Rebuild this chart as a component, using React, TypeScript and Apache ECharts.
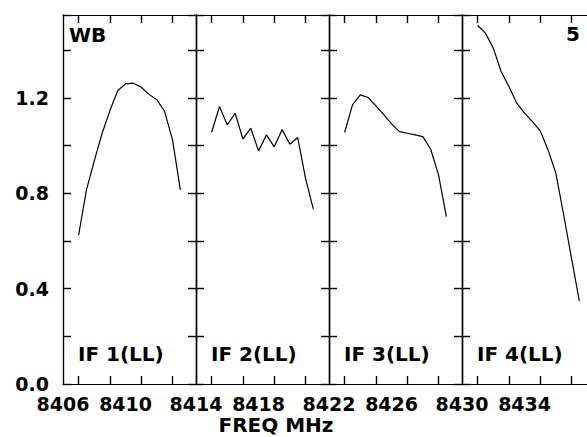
import React, { useEffect, useRef } from "react";
import * as echarts from "echarts";

// Panel (IF) start frequencies in MHz and labels
const panelStarts = [8406, 8414, 8422, 8430];
const panelLabels = ["IF 1(LL)", "IF 2(LL)", "IF 3(LL)", "IF 4(LL)"];
// Channel offsets (MHz) from each panel's start frequency
const channelOffsets = [1, 1.5, 2, 2.5, 3, 3.5, 4, 4.5, 5, 5.5, 6, 6.5, 7, 7.5];
// Amplitudes per IF
const if1 = [0.625, 0.814, 0.936, 1.052, 1.147, 1.231, 1.259, 1.262, 1.245, 1.215, 1.192, 1.143, 1.024, 0.814];
const if2 = [1.056, 1.164, 1.087, 1.136, 1.028, 1.073, 0.978, 1.045, 0.995, 1.067, 1.006, 1.034, 0.863, 0.734];
const if3 = [1.055, 1.171, 1.213, 1.202, 1.167, 1.13, 1.091, 1.059, 1.052, 1.045, 1.038, 0.985, 0.877, 0.702];
const if4 = [1.504, 1.472, 1.409, 1.311, 1.248, 1.178, 1.136, 1.101, 1.062, 0.982, 0.884, 0.709, 0.527, 0.348];
const seriesValues = [if1, if2, if3, if4];
// Axis settings
const yMax = 1.548;
const yTickStep = 0.2;
const yLabelValues = [0, 0.4, 0.8, 1.2];
const panelSpan = 8.5;
const xLabelStep = 4;
const xLabelOffsets = [0, 4];
const xTickFirst = 1;
const xTickLast = 7;
const xTickStep = 2;
const cornerLeft = "WB";
const cornerRight = "5";
const xTitle = "FREQ MHz";

const FONT = "DejaVu Sans";
const TICK = 8;

const ls = () => ({ color: "#000", width: 1.2 });
const tls = () => ({ color: "#000", width: 1.4 });

export default function App() {
  const ref = useRef<HTMLDivElement>(null);
  useEffect(() => {
    if (!ref.current) return;
    const chart = echarts.init(ref.current, undefined, { renderer: "svg" });
    const left0 = 63;
    const pw = 133;
    const top = 15;
    const h = 369;
    const pxPerMHz = pw / panelSpan;
    const grids: any[] = [];
    const xAxes: any[] = [];
    const yAxes: any[] = [];
    const series: any[] = [];
    const graphics: any[] = [];
    const emptyLabel = { show: true, formatter: () => "", fontSize: 1, margin: 0 };

    const hiddenAxis = (gridIndex: number) => ({
      type: "value",
      gridIndex,
      show: false,
      min: 0,
      max: 1,
      axisLine: { show: false, onZero: false },
      axisTick: { show: false },
      axisLabel: { show: false },
      splitLine: { show: false },
    });

    panelStarts.forEach((s, i) => {
      const gi = grids.length;
      const pl = left0 + pw * i;
      grids.push({ left: pl, top, width: pw, height: h, outerBoundsMode: "none" });
      const bx = xAxes.length;
      xAxes.push({
        type: "value",
        gridIndex: gi,
        position: "bottom",
        min: s,
        max: s + panelSpan,
        interval: xLabelStep,
        splitLine: { show: false },
        axisLine: { show: true, onZero: false, lineStyle: ls() },
        axisTick: { show: false },
        axisLabel: {
          show: true,
          showMaxLabel: false,
          formatter: (v: number) =>
            xLabelOffsets.some((o) => Math.abs(v - s - o) < 1e-6) ? String(Math.round(v)) : "",
          color: "#000",
          fontFamily: FONT,
          fontWeight: "bold",
          fontSize: 19,
          lineHeight: 15,
          margin: 12,
        },
      });
      xAxes.push({
        type: "value",
        gridIndex: gi,
        position: "top",
        min: s,
        max: s + panelSpan,
        splitLine: { show: false },
        axisLine: { show: true, onZero: false, lineStyle: ls() },
        axisTick: { show: false },
        axisLabel: { show: false },
      });
      const by = yAxes.length;
      yAxes.push({
        type: "value",
        gridIndex: gi,
        position: "left",
        min: 0,
        max: yMax,
        interval: yTickStep,
        splitLine: { show: false },
        axisLine: { show: true, onZero: false, lineStyle: ls() },
        axisTick: { show: false },
        axisLabel: {
          show: i === 0,
          showMaxLabel: false,
          formatter: (v: number) =>
            yLabelValues.some((l) => Math.abs(v - l) < 1e-6) ? v.toFixed(1) : "",
          color: "#000",
          fontFamily: FONT,
          fontWeight: "bold",
          fontSize: 19,
          margin: 14,
        },
      });
      yAxes.push({
        type: "value",
        gridIndex: gi,
        position: "right",
        min: 0,
        max: yMax,
        splitLine: { show: false },
        axisLine: { show: true, onZero: false, lineStyle: ls() },
        axisTick: { show: false },
        axisLabel: { show: false },
      });
      series.push({
        type: "line",
        xAxisIndex: bx,
        yAxisIndex: by,
        symbol: "none",
        lineStyle: ls(),
        data: channelOffsets.map((o, k) => [s + o, seriesValues[i][k]]),
      });

      // helper grids for frequency tick marks (outside ticks pointing into the panel)
      const tickLeft = pl + xTickFirst * pxPerMHz;
      const tickWidth = (xTickLast - xTickFirst) * pxPerMHz;
      const xTickAxis = (gridIndex: number, position: string) => ({
        type: "value",
        gridIndex,
        position,
        min: s + xTickFirst,
        max: s + xTickLast,
        interval: xTickStep,
        splitLine: { show: false },
        axisLine: { show: true, onZero: false, lineStyle: ls() },
        axisTick: { show: true, length: TICK, lineStyle: tls() },
        axisLabel: emptyLabel,
      });
      const g1 = grids.length;
      grids.push({ left: tickLeft, width: tickWidth, top: top + h, height: 10, outerBoundsMode: "none" });
      xAxes.push(xTickAxis(g1, "top"));
      yAxes.push(hiddenAxis(g1));
      const g2 = grids.length;
      grids.push({ left: tickLeft, width: tickWidth, top: top - 10, height: 10, outerBoundsMode: "none" });
      xAxes.push(xTickAxis(g2, "bottom"));
      yAxes.push(hiddenAxis(g2));

      graphics.push({
        type: "text",
        x: pl + 15,
        y: 354,
        style: {
          text: panelLabels[i],
          fill: "#000",
          font: `bold 20px '${FONT}'`,
          verticalAlign: "middle",
        },
      });
    });

    // helper grids for amplitude tick marks at each panel border
    const yTickAxis = (gridIndex: number, position: string) => ({
      type: "value",
      gridIndex,
      position,
      min: 0,
      max: yMax,
      interval: yTickStep,
      splitLine: { show: false },
      axisLine: { show: true, onZero: false, lineStyle: ls() },
      axisTick: { show: true, length: TICK, lineStyle: tls() },
      axisLabel: emptyLabel,
    });
    panelStarts.forEach((_s, k) => {
      const xd = left0 + pw * k;
      const gr = grids.length;
      grids.push({ left: xd - 10, width: 10, top, height: h, outerBoundsMode: "none" });
      xAxes.push(hiddenAxis(gr));
      yAxes.push(yTickAxis(gr, "right"));
      if (k > 0) {
        const gl = grids.length;
        grids.push({ left: xd, width: 10, top, height: h, outerBoundsMode: "none" });
        xAxes.push(hiddenAxis(gl));
        yAxes.push(yTickAxis(gl, "left"));
      }
    });

    graphics.push({
      type: "text",
      x: 69,
      y: 34.5,
      style: { text: cornerLeft, fill: "#000", font: `bold 20px '${FONT}'`, verticalAlign: "middle" },
    });
    graphics.push({
      type: "text",
      x: 580,
      y: 34,
      style: {
        text: cornerRight,
        fill: "#000",
        font: `bold 20px '${FONT}'`,
        align: "right",
        verticalAlign: "middle",
      },
    });
    graphics.push({
      type: "text",
      x: 276,
      y: 424.5,
      style: {
        text: xTitle,
        fill: "#000",
        font: `bold 20px '${FONT}'`,
        align: "center",
        verticalAlign: "middle",
      },
    });
    chart.setOption({
      animation: false,
      backgroundColor: "#fff",
      grid: grids,
      xAxis: xAxes,
      yAxis: yAxes,
      series,
      graphic: graphics,
    });
    return () => chart.dispose();
  }, []);
  return (
    <div
      ref={ref}
      style={{ position: "fixed", left: 0, top: 0, width: 587, height: 437 }}
    />
  );
}
